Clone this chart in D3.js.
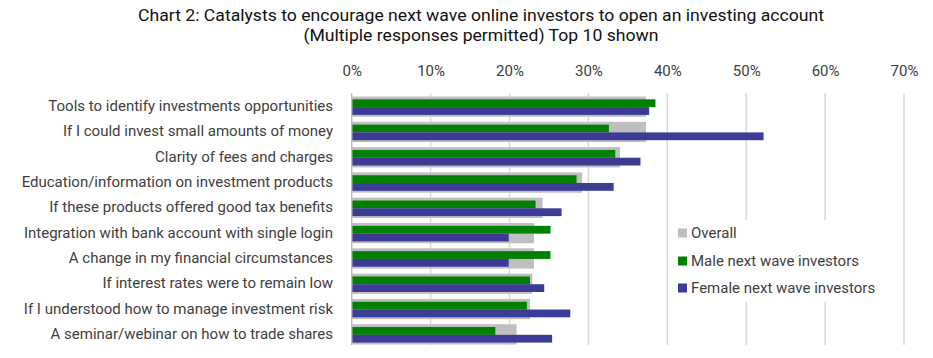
<!DOCTYPE html>
<html><head><meta charset="utf-8">
<script src="https://cdn.jsdelivr.net/npm/d3@7"></script>
<style>body{margin:0;background:#fff;} text{font-family:Roboto,"Open Sans",sans-serif;}</style>
</head><body>
<svg id="c" width="933" height="358"></svg>
<script>
const categories = [
  "Tools to identify investments opportunities",
  "If I could invest small amounts of money",
  "Clarity of fees and charges",
  "Education/information on investment products",
  "If these products offered good tax benefits",
  "Integration with bank account with single login",
  "A change in my financial circumstances",
  "If interest rates were to remain low",
  "If I understood how to manage investment risk",
  "A seminar/webinar on how to trade shares"
];
const overall = [37.3, 37.3, 34.0, 29.2, 24.2, 23.1, 23.1, 22.9, 22.6, 20.9];
const male    = [38.5, 32.6, 33.4, 28.5, 23.3, 25.2, 25.2, 22.6, 22.2, 18.2];
const female  = [37.7, 52.2, 36.6, 33.2, 26.6, 19.9, 19.9, 24.4, 27.7, 25.4];
const tickValues = [0, 10, 20, 30, 40, 50, 60, 70];
const seriesNames = ["Overall", "Male next wave investors", "Female next wave investors"];
const colors = ["#bfbfbf", "#008000", "#3c3c96"];
const titleLines = ["Chart 2: Catalysts to encourage next wave online investors to open an investing account",
                    "(Multiple responses permitted) Top 10 shown"];

const svg = d3.select("#c");
const x = d3.scaleLinear().domain([0, 70]).range([351.7, 904]);
const y = d3.scaleBand().domain(categories).range([94, 347]).paddingInner(0.2).paddingOuter(0.1);
const sub = d3.scaleBand().domain(["m", "f"]).range([0, y.bandwidth()]).paddingOuter(0.3).align(0.6);

// title
const t1 = svg.append("text").attr("x", 481).attr("y", 21).attr("text-anchor", "middle")
  .attr("font-size", 17).attr("fill", "#111").text(titleLines[0]);
const nat = t1.node().getComputedTextLength();
const ratio = 686 / nat;
t1.attr("textLength", 686).attr("lengthAdjust", "spacingAndGlyphs");
const t2 = svg.append("text").attr("x", 481).attr("y", 41).attr("text-anchor", "middle")
  .attr("font-size", 17).attr("fill", "#111").text(titleLines[1]);
t2.attr("textLength", t2.node().getComputedTextLength() * ratio).attr("lengthAdjust", "spacingAndGlyphs");

// gridlines
svg.append("g").selectAll("line").data(tickValues.slice(1)).join("line")
  .attr("x1", d => x(d)).attr("x2", d => x(d)).attr("y1", 93).attr("y2", 345)
  .attr("stroke", "#d9d9d9").attr("stroke-width", 1.5);

// axis labels on top
const ax = d3.axisTop(x).tickValues(tickValues).tickFormat(d => d + "%").tickSize(0).tickPadding(0);
const axg = svg.append("g").attr("transform", "translate(0,76)").call(ax);
axg.select(".domain").remove();
axg.selectAll("text").attr("font-size", 15).attr("fill", "#404040").attr("font-family", "Roboto").attr("dy", 0);

// bars
const rows = svg.append("g");
rows.selectAll("rect.o").data(categories).join("rect").attr("class", "o")
  .attr("x", x(0)).attr("y", d => y(d)).attr("height", y.bandwidth())
  .attr("width", (d, i) => x(overall[i]) - x(0)).attr("fill", colors[0]);
rows.selectAll("rect.m").data(categories).join("rect").attr("class", "m")
  .attr("x", x(0)).attr("y", d => y(d) + sub("m")).attr("height", sub.bandwidth())
  .attr("width", (d, i) => x(male[i]) - x(0)).attr("fill", colors[1]);
rows.selectAll("rect.f").data(categories).join("rect").attr("class", "f")
  .attr("x", x(0)).attr("y", d => y(d) + sub("f")).attr("height", sub.bandwidth())
  .attr("width", (d, i) => x(female[i]) - x(0)).attr("fill", colors[2]);

// zero line
svg.append("line").attr("x1", x(0)).attr("x2", x(0)).attr("y1", 93).attr("y2", 345)
  .attr("stroke", "#bfbfbf").attr("stroke-width", 1.5);

// category labels
const ya = d3.axisLeft(y).tickSize(0).tickPadding(0);
const yg = svg.append("g").attr("transform", "translate(333,0)").call(ya);
yg.select(".domain").remove();
yg.selectAll("text").attr("font-size", 15).attr("fill", "#404040").attr("font-family", "Roboto").attr("dy", "0.3em");

// legend
const lg = svg.append("g");
lg.append("rect").attr("x", 671).attr("y", 220).attr("width", 225).attr("height", 82).attr("fill", "#fff");
const ly = [233, 261, 288];
seriesNames.forEach((s, i) => {
  lg.append("rect").attr("x", 678).attr("y", ly[i] - 4.5).attr("width", 9).attr("height", 9).attr("fill", colors[i]);
  lg.append("text").attr("x", 691).attr("y", ly[i]).attr("dy", "0.35em").attr("font-size", 15)
    .attr("fill", "#404040").text(s);
});
</script>
</body></html>
